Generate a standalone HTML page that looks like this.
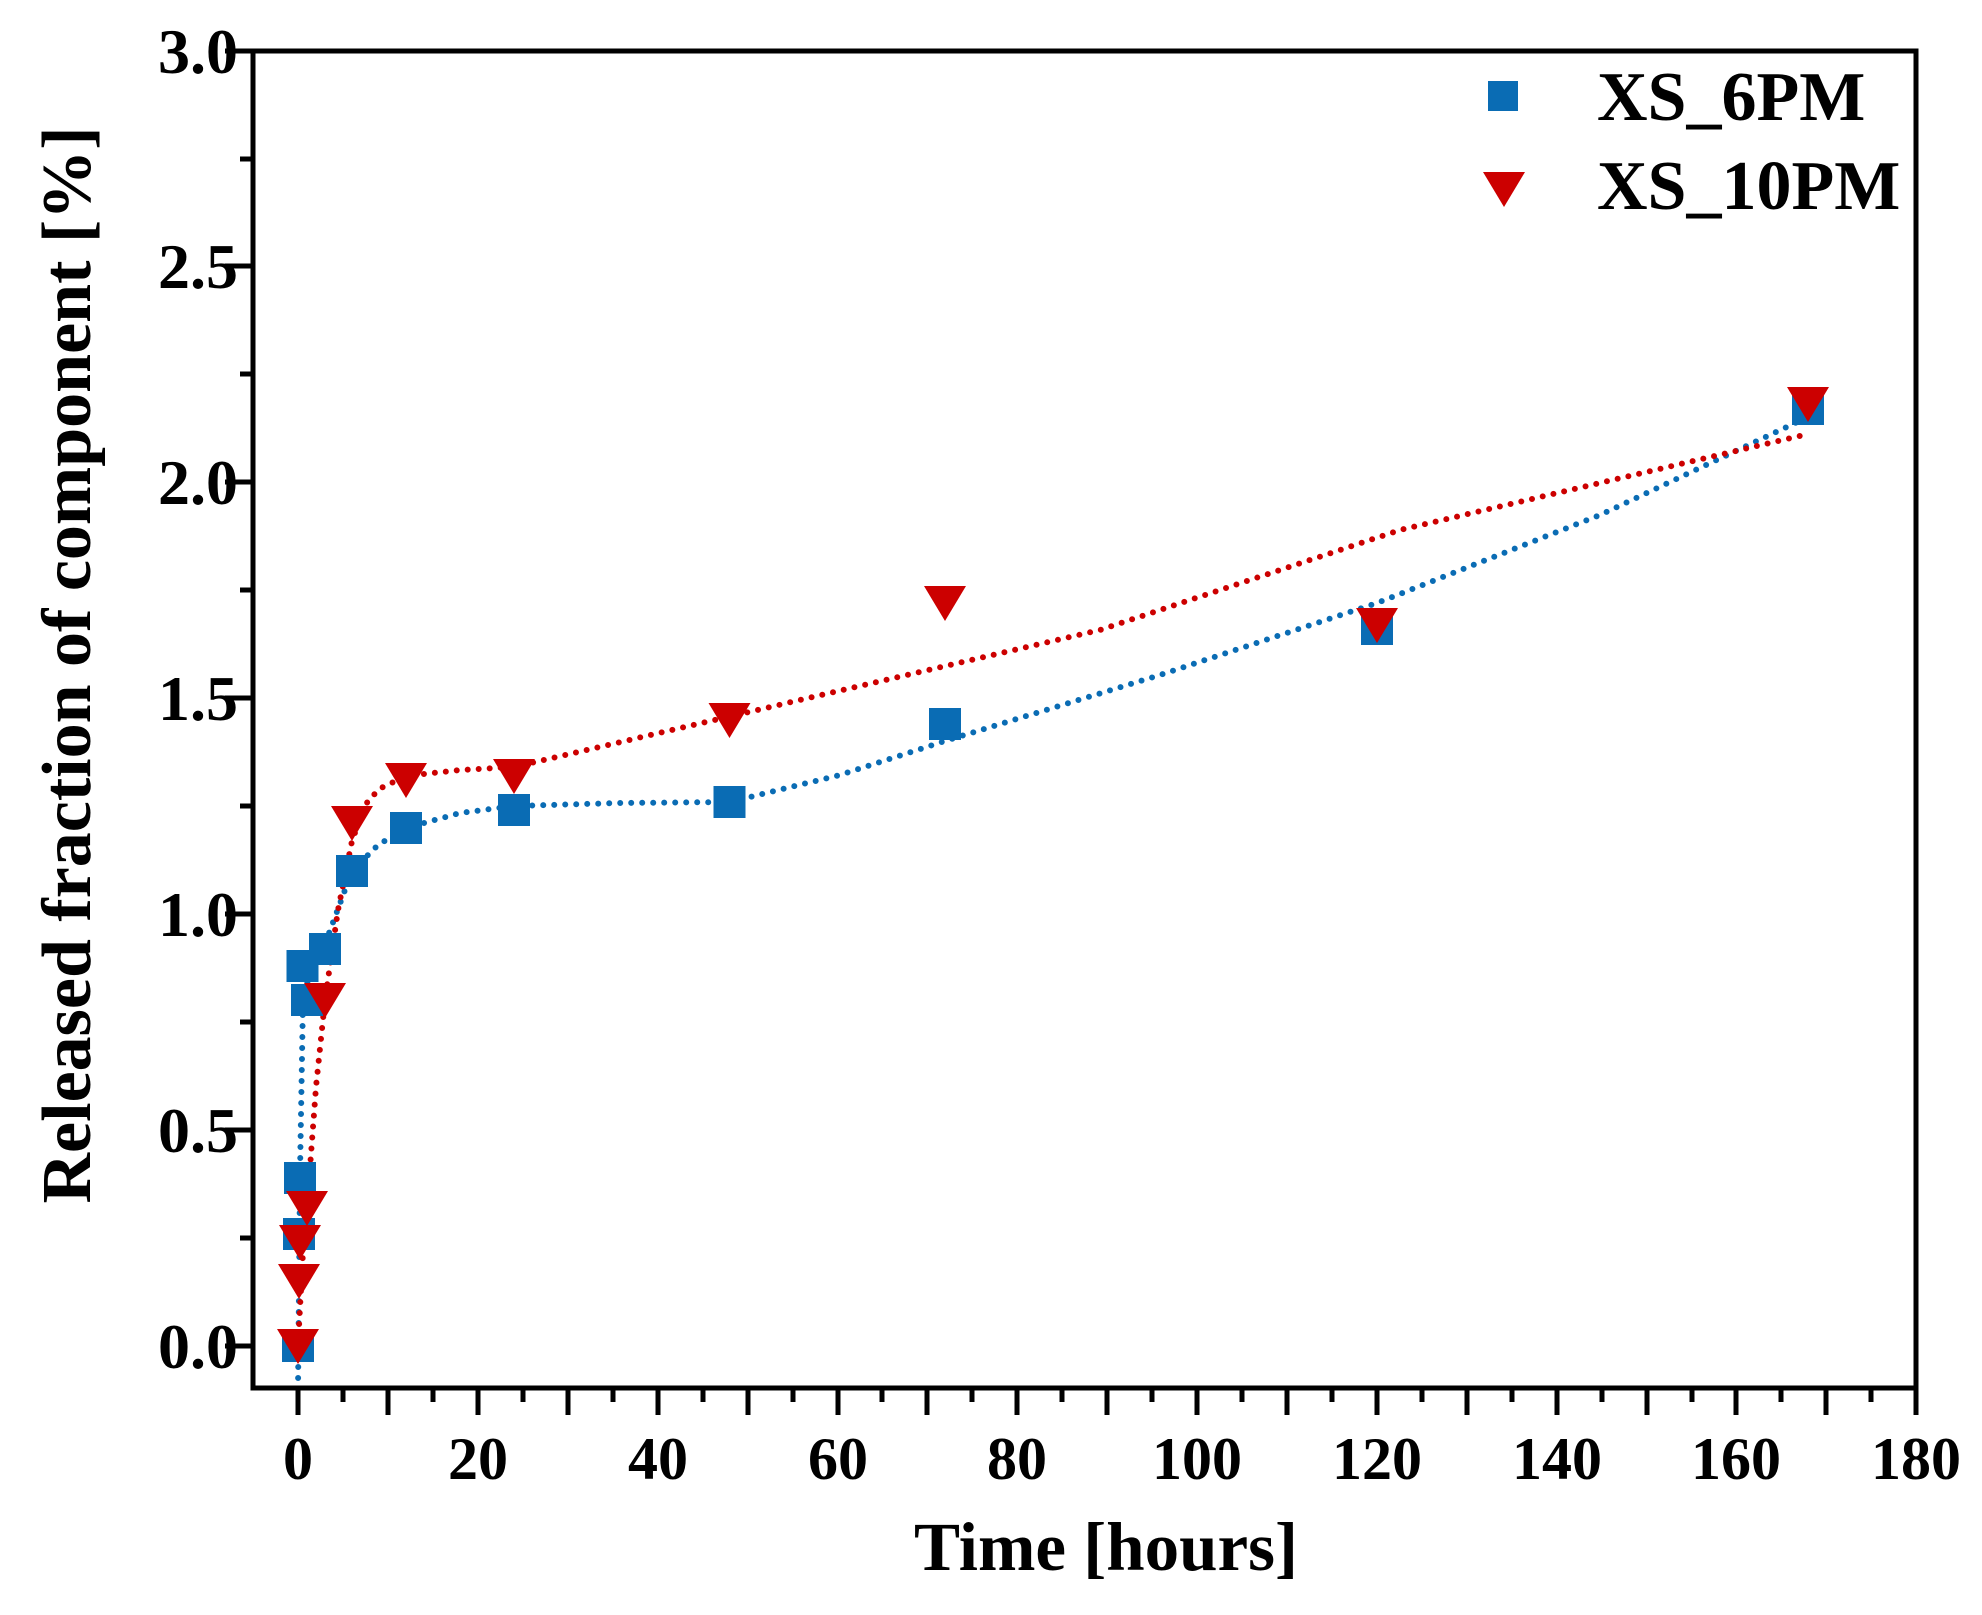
<!DOCTYPE html>
<html><head><meta charset="utf-8"><style>
html,body{margin:0;padding:0;background:#fff;}
svg{display:block;}
text{font-family:"Liberation Serif",serif;font-weight:bold;fill:#000;}
</style></head><body>
<svg width="1982" height="1615" viewBox="0 0 1982 1615" xmlns="http://www.w3.org/2000/svg">
<rect width="1982" height="1615" fill="#fff"/>
<polyline fill="none" stroke="#0a6cb4" stroke-width="6" stroke-linecap="round" stroke-dasharray="0 11" points="298,1389 299,1290 300,1173 303,1000 311.5,966 325,944 352,871 378,845 406,828 460,813 514,806 620,803 729.5,802 840,775 945,741 1160,675 1377,603 1600,515 1808,417"/>
<polyline fill="none" stroke="#cc0000" stroke-width="6" stroke-linecap="round" stroke-dasharray="0 11" points="298,1346 302.5,1260 307,1208 316,1087 325,1000 338,910 352,841 365,805 379,789 406,776 460,770 514,767 800,700 1100,630 1400,530 1808,434"/>
<g fill="#0a6cb4">
<rect x="282" y="1330" width="32" height="32"/>
<rect x="283" y="1218" width="32" height="32"/>
<rect x="284" y="1162" width="32" height="32"/>
<rect x="286.5" y="950" width="32" height="32"/>
<rect x="291" y="984" width="32" height="32"/>
<rect x="309" y="933" width="32" height="32"/>
<rect x="336" y="855" width="32" height="32"/>
<rect x="390" y="812" width="32" height="32"/>
<rect x="498" y="794" width="32" height="32"/>
<rect x="713.5" y="786" width="32" height="32"/>
<rect x="929" y="708" width="32" height="32"/>
<rect x="1361" y="613" width="32" height="32"/>
<rect x="1792" y="393" width="32" height="32"/>
<rect x="1488" y="81" width="30" height="30"/>
</g>
<g fill="#cc0000">
<path d="M277,1329 L319,1329 L298,1364Z"/>
<path d="M278,1264 L320,1264 L299,1299Z"/>
<path d="M279,1225 L321,1225 L300,1260Z"/>
<path d="M286,1191 L328,1191 L307,1226Z"/>
<path d="M304,983 L346,983 L325,1018Z"/>
<path d="M331,806 L373,806 L352,841Z"/>
<path d="M385,763 L427,763 L406,798Z"/>
<path d="M493,759 L535,759 L514,794Z"/>
<path d="M708.5,703 L750.5,703 L729.5,738Z"/>
<path d="M924,586 L966,586 L945,621Z"/>
<path d="M1356,608 L1398,608 L1377,643Z"/>
<path d="M1787,387 L1829,387 L1808,422Z"/>
<path d="M1483,172 L1525,172 L1504,207Z"/>
</g>
<rect x="253" y="51" width="1663" height="1337" fill="none" stroke="#000" stroke-width="5"/>
<g stroke="#000" stroke-width="5">
<line x1="225" y1="51" x2="253" y2="51"/>
<line x1="240" y1="159" x2="253" y2="159"/>
<line x1="225" y1="266" x2="253" y2="266"/>
<line x1="240" y1="374" x2="253" y2="374"/>
<line x1="225" y1="482" x2="253" y2="482"/>
<line x1="240" y1="590" x2="253" y2="590"/>
<line x1="225" y1="698" x2="253" y2="698"/>
<line x1="240" y1="806" x2="253" y2="806"/>
<line x1="225" y1="914" x2="253" y2="914"/>
<line x1="240" y1="1022" x2="253" y2="1022"/>
<line x1="225" y1="1130" x2="253" y2="1130"/>
<line x1="240" y1="1238" x2="253" y2="1238"/>
<line x1="225" y1="1346" x2="253" y2="1346"/>
<line x1="298" y1="1388" x2="298" y2="1415"/>
<line x1="343" y1="1388" x2="343" y2="1402"/>
<line x1="388" y1="1388" x2="388" y2="1415"/>
<line x1="433" y1="1388" x2="433" y2="1402"/>
<line x1="478" y1="1388" x2="478" y2="1415"/>
<line x1="523" y1="1388" x2="523" y2="1402"/>
<line x1="568" y1="1388" x2="568" y2="1415"/>
<line x1="613" y1="1388" x2="613" y2="1402"/>
<line x1="658" y1="1388" x2="658" y2="1415"/>
<line x1="703" y1="1388" x2="703" y2="1402"/>
<line x1="748" y1="1388" x2="748" y2="1415"/>
<line x1="793" y1="1388" x2="793" y2="1402"/>
<line x1="838" y1="1388" x2="838" y2="1415"/>
<line x1="882" y1="1388" x2="882" y2="1402"/>
<line x1="927" y1="1388" x2="927" y2="1415"/>
<line x1="972" y1="1388" x2="972" y2="1402"/>
<line x1="1017" y1="1388" x2="1017" y2="1415"/>
<line x1="1062" y1="1388" x2="1062" y2="1402"/>
<line x1="1107" y1="1388" x2="1107" y2="1415"/>
<line x1="1152" y1="1388" x2="1152" y2="1402"/>
<line x1="1197" y1="1388" x2="1197" y2="1415"/>
<line x1="1242" y1="1388" x2="1242" y2="1402"/>
<line x1="1287" y1="1388" x2="1287" y2="1415"/>
<line x1="1332" y1="1388" x2="1332" y2="1402"/>
<line x1="1377" y1="1388" x2="1377" y2="1415"/>
<line x1="1422" y1="1388" x2="1422" y2="1402"/>
<line x1="1467" y1="1388" x2="1467" y2="1415"/>
<line x1="1512" y1="1388" x2="1512" y2="1402"/>
<line x1="1557" y1="1388" x2="1557" y2="1415"/>
<line x1="1602" y1="1388" x2="1602" y2="1402"/>
<line x1="1647" y1="1388" x2="1647" y2="1415"/>
<line x1="1692" y1="1388" x2="1692" y2="1402"/>
<line x1="1736" y1="1388" x2="1736" y2="1415"/>
<line x1="1781" y1="1388" x2="1781" y2="1402"/>
<line x1="1826" y1="1388" x2="1826" y2="1415"/>
<line x1="1871" y1="1388" x2="1871" y2="1402"/>
<line x1="1916" y1="1388" x2="1916" y2="1415"/>
</g>
<g font-size="64" text-anchor="end">
<text x="238" y="73">3.0</text>
<text x="238" y="288">2.5</text>
<text x="238" y="504">2.0</text>
<text x="238" y="720">1.5</text>
<text x="238" y="936">1.0</text>
<text x="238" y="1152">0.5</text>
<text x="238" y="1368">0.0</text>
</g>
<g font-size="60" text-anchor="middle">
<text x="298" y="1479">0</text>
<text x="478" y="1479">20</text>
<text x="658" y="1479">40</text>
<text x="838" y="1479">60</text>
<text x="1017" y="1479">80</text>
<text x="1197" y="1479">100</text>
<text x="1377" y="1479">120</text>
<text x="1557" y="1479">140</text>
<text x="1736" y="1479">160</text>
<text x="1916" y="1479">180</text>
</g>
<text x="1106" y="1570" font-size="69" text-anchor="middle">Time [hours]</text>
<text transform="translate(90,665) rotate(-90)" font-size="70" text-anchor="middle">Released fraction of component [%]</text>
<text x="1597" y="120" font-size="70">XS_6PM</text>
<text x="1597" y="209" font-size="70">XS_10PM</text>
</svg>
</body></html>
